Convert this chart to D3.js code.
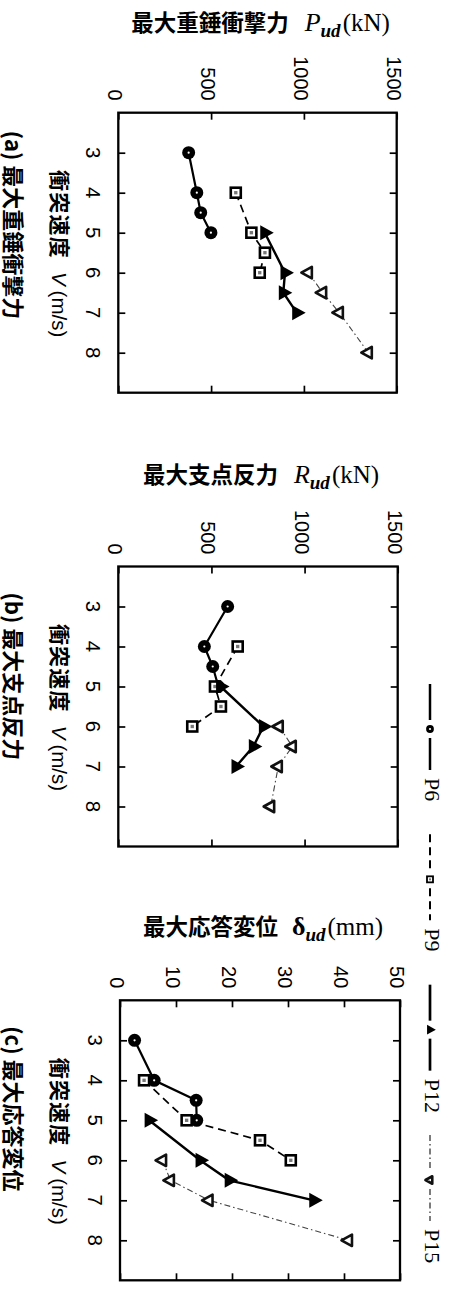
<!DOCTYPE html>
<html><head><meta charset="utf-8">
<script src="https://cdn.jsdelivr.net/npm/d3@7"></script>
<style>body{margin:0;background:#fff}svg{display:block}</style>
</head><body>
<svg id="c" width="451" height="1292"></svg>
<script>
// ---------- data ----------
const seriesNames = ["P6", "P9", "P12", "P15"];
const velocityTicks = [3, 4, 5, 6, 7, 8];
const forceTicks = [0, 500, 1000, 1500];
const dispTicks = [0, 10, 20, 30, 40, 50];

const velP6 = [3, 4, 4.5, 5];
const velP9 = [4, 5, 5.5, 6];
const velP12 = [5, 6, 6.5, 7];
const velP15 = [6, 6.5, 7, 8];

// (a) max impact force P_ud (kN)
const impactP6 = [379, 423, 444, 499];
const impactP9 = [633, 717, 790, 762];
const impactP12 = [789, 898, 889, 961];
const impactP15 = [1024, 1101, 1191, 1347];
// (b) max support reaction R_ud (kN)
const reactionP6 = [587, 462, 507, 537];
const reactionP9 = [641, 519, 551, 397];
const reactionP12 = [549, 779, 725, 632];
const reactionP15 = [864, 934, 859, 818];
// (c) max response displacement δ_ud (mm)
const dispP6 = [2.6, 6.1, 13.6, 13.7];
const dispP9 = [4.3, 11.9, 25.0, 30.5];
const dispP12 = [5.2, 14.3, 19.5, 34.6];
const dispP15 = [7.6, 9.0, 15.9, 40.8];

const panelTitles = ["最大重錘衝撃力", "最大支点反力", "最大応答変位"];
const panelSymbols = ["P", "R", "δ"];
const panelUnits = ["(kN)", "(kN)", "(mm)"];
const panelCaptions = ["(a) 最大重錘衝撃力", "(b) 最大支点反力", "(c) 最大応答変位"];
const xAxisCJK = "衝突速度";

// ---------- layout / style ----------
const CJK = "'Noto Sans CJK JP','Noto Sans CJK SC',sans-serif";
const SANS = "'Liberation Sans',Arial,sans-serif";
const SERIF = "'Liberation Serif','Times New Roman',serif";

const panels = [
  {vals: [impactP6, impactP9, impactP12, impactP15], ticks: forceTicks, dom: [0, 1500],
   x0: 118.3, x1: 396.7, y0: 112.7, y1: 392.7, titleY: 31, capOff: 18},
  {vals: [reactionP6, reactionP9, reactionP12, reactionP15], ticks: forceTicks, dom: [0, 1500],
   x0: 118.3, x1: 397.7, y0: 566.5, y1: 846.5, titleY: 483, capOff: 26},
  {vals: [dispP6, dispP9, dispP12, dispP15], ticks: dispTicks, dom: [0, 50],
   x0: 120, x1: 400, y0: 1000.3, y1: 1280.3, titleY: 935, capOff: 26}
];
const vels = [velP6, velP9, velP12, velP15];

const styles = {
  P6: {dash: null, width: 2.2, color: "#000"},
  P9: {dash: "8,5", width: 1.7, color: "#000"},
  P12: {dash: null, width: 2.4, color: "#000"},
  P15: {dash: "6,3,1.5,3", width: 1.1, color: "#444"}
};

const svg = d3.select("#c");

function drawMarker(g, name, cx, cy, k) {
  if (name === "P6") {
    g.append("circle").attr("cx", cx).attr("cy", cy).attr("r", 6.5 * k).attr("fill", "#000");
    g.append("circle").attr("cx", cx).attr("cy", cy).attr("r", 1.1).attr("fill", "#fff");
  } else if (name === "P9") {
    const s = 10 * k;
    g.append("rect").attr("x", cx - s / 2).attr("y", cy - s / 2).attr("width", s).attr("height", s)
      .attr("fill", "#fff").attr("stroke", "#000").attr("stroke-width", 2.6 * Math.max(k, 0.7));
    g.append("rect").attr("x", cx - s / 6).attr("y", cy - s / 6).attr("width", s / 3).attr("height", s / 3)
      .attr("fill", "#777");
  } else if (name === "P12") {
    const h = 13.5 * k, s = 15 * k;
    g.append("path").attr("d", `M${cx + 2 * h / 3},${cy} L${cx - h / 3},${cy - s / 2} L${cx - h / 3},${cy + s / 2} Z`)
      .attr("fill", "#000");
  } else {
    const h = 10.5 * k, s = 11.5 * k;
    g.append("path").attr("d", `M${cx - 2 * h / 3},${cy} L${cx + h / 3},${cy - s / 2} L${cx + h / 3},${cy + s / 2} Z`)
      .attr("fill", "#fff").attr("stroke", "#111").attr("stroke-width", 2.6).attr("stroke-linejoin", "round");
  }
}

function vtext(g, x, y, anchor) {
  return g.append("text").attr("transform", `translate(${x},${y}) rotate(90)`).attr("text-anchor", anchor);
}

panels.forEach((p, i) => {
  const x = d3.scaleLinear().domain(p.dom).range([p.x0, p.x1]);
  const y = d3.scaleLinear().domain([2, 9]).range([p.y0, p.y1]);
  const g = svg.append("g");

  // inward ticks on all four sides
  const axes = [
    [d3.axisTop(x).tickValues(p.ticks), `translate(0,${p.y0})`],
    [d3.axisBottom(x).tickValues(p.ticks), `translate(0,${p.y1})`],
    [d3.axisLeft(y).tickValues(velocityTicks), `translate(${p.x0},0)`],
    [d3.axisRight(y).tickValues(velocityTicks), `translate(${p.x1},0)`]
  ];
  axes.forEach(([ax, tr]) => {
    const a = g.append("g").attr("transform", tr).call(ax.tickSize(-7).tickFormat(""));
    a.select(".domain").remove();
    a.selectAll("line").attr("stroke", "#000").attr("stroke-width", 1.7);
  });
  // frame
  g.append("rect").attr("x", p.x0).attr("y", p.y0).attr("width", p.x1 - p.x0).attr("height", p.y1 - p.y0)
    .attr("fill", "none").attr("stroke", "#000").attr("stroke-width", 2.3);

  // value tick labels (rotated)
  p.ticks.forEach(t => {
    vtext(g, x(t) - 10, p.y0 - 12, "end").attr("font-family", SANS).attr("font-size", 20).text(t);
  });
  // velocity tick labels
  velocityTicks.forEach(t => {
    vtext(g, p.x0 - 32, y(t), "middle").attr("font-family", SANS).attr("font-size", 20.5).text(t);
  });

  // title (horizontal)
  const isDelta = panelSymbols[i] === "δ";
  const tt = g.append("text").attr("x", (p.x0 + p.x1) / 2 + 3).attr("y", p.titleY).attr("text-anchor", "middle");
  tt.append("tspan").attr("font-family", CJK).attr("font-weight", 700).attr("font-size", 22.5).text(panelTitles[i]);
  tt.append("tspan").attr("dx", isDelta ? 14 : 16).attr("font-family", SERIF)
    .attr("font-style", isDelta ? "normal" : "italic")
    .attr("font-weight", isDelta ? 700 : 400)
    .attr("font-size", 26).text(panelSymbols[i]);
  tt.append("tspan").attr("dy", 6).attr("font-family", SERIF).attr("font-style", "italic").attr("font-weight", 700)
    .attr("font-size", 19).text("ud");
  tt.append("tspan").attr("dy", -6).attr("dx", 2).attr("font-family", SERIF).attr("font-size", 25).text(panelUnits[i]);

  // x-axis label (rotated)
  const xl = vtext(g, 52, (p.y0 + p.y1) / 2 + 1, "middle");
  xl.append("tspan").attr("font-family", CJK).attr("font-weight", 700).attr("font-size", 21)
    .attr("letter-spacing", 1.2).text(xAxisCJK);
  xl.append("tspan").attr("dx", 13).attr("font-family", SANS).attr("font-style", "italic").attr("font-size", 20.5).text("V");
  xl.append("tspan").attr("dx", 5).attr("font-family", SANS).attr("font-size", 20.5).text("(m/s)");

  // caption (rotated)
  vtext(g, 5, p.y0 + p.capOff, "start").attr("font-family", CJK).attr("font-weight", 700)
    .attr("font-size", 22).text(panelCaptions[i]);

  // series
  seriesNames.forEach((name, si) => {
    const pts = vels[si].map((v, k) => ({v, val: p.vals[si][k]}));
    const st = styles[name];
    g.append("path").datum(pts)
      .attr("d", d3.line().x(d => x(d.val)).y(d => y(d.v)))
      .attr("fill", "none").attr("stroke", st.color).attr("stroke-width", st.width)
      .attr("stroke-dasharray", st.dash);
    pts.forEach(d => drawMarker(g, name, x(d.val), y(d.v), 1));
  });
});

// legend (rotated, right edge)
const lg = svg.append("g");
const legPos = d3.scaleLinear().domain([0, seriesNames.length - 1]).range([729, 1180]);
seriesNames.forEach((name, i) => {
  const m = legPos(i);
  const st = styles[name];
  [[m - 45, m - 9], [m + 9, m + 41]].forEach(([a, b]) => {
    lg.append("line").attr("x1", 430).attr("x2", 430).attr("y1", a).attr("y2", b)
      .attr("stroke", st.color).attr("stroke-width", st.width + 0.3).attr("stroke-dasharray", st.dash);
  });
  drawMarker(lg, name, 430, m, name === "P6" ? 0.6 : name === "P9" ? 0.6 : 0.65);
  vtext(lg, 425, m + 49, "start").attr("font-family", SERIF).attr("font-size", 22).text(name);
});
</script>
</body></html>
